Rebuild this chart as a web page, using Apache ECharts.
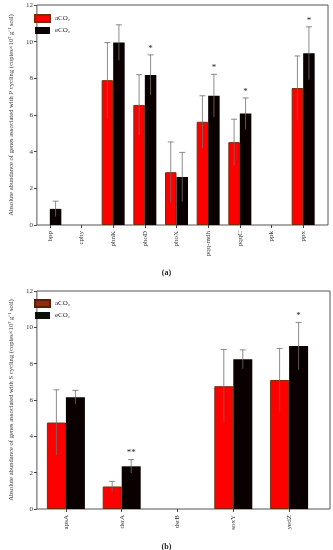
<!DOCTYPE html>
<html><head><meta charset="utf-8">
<script src="https://cdn.jsdelivr.net/npm/echarts@6/dist/echarts.min.js"></script>
<style>html,body{margin:0;padding:0;background:#fff}#c{width:333px;height:550px}</style>
</head><body><div id="c"></div>
<script>
// ---- Data (a): P cycling ----
var catsA = ['bpp','cphy','phnK','phoD','phoX','pqq-mdh','pqqC','ppk','ppx'];
var aCO2_A = [0, 0, 7.90, 6.55, 2.88, 5.63, 4.52, 0, 7.47];
var aErr_A = [0, 0, 2.05, 1.65, 1.65, 1.42, 1.25, 0, 1.75];
var eCO2_A = [0.88, 0, 9.95, 8.18, 2.62, 7.05, 6.08, 0, 9.37];
var eErr_A = [0.42, 0, 0.97, 1.10, 1.34, 1.17, 0.85, 0, 1.44];
var sigA   = ['', '', '', '*', '', '*', '*', '', '*'];
// ---- Data (b): S cycling ----
var catsB = ['apsA','dsrA','dsrB','soxY','yedZ'];
var aCO2_B = [4.76, 1.24, 0, 6.76, 7.10];
var aErr_B = [1.80, 0.28, 0, 2.02, 1.74];
var eCO2_B = [6.15, 2.35, 0, 8.24, 8.97];
var eErr_B = [0.38, 0.37, 0, 0.52, 1.30];
var sigB   = ['', '**', '', '', '*'];
var yTicks = [0, 2, 4, 6, 8, 10, 12];

var FONT = 'Liberation Serif';
var chart = echarts.init(document.getElementById('c'));

function barData(arr) { return arr.map(function (v) { return v === 0 ? '-' : v; }); }
function errData(mean, err) {
  var d = [];
  for (var i = 0; i < mean.length; i++) if (err[i] > 0) d.push([i, mean[i], err[i]]);
  return d;
}
function errRender(offset, sig) {
  return function (params, api) {
    var i = api.value(0), m = api.value(1), e = api.value(2);
    var top = api.coord([i, m + e]);
    var bot = api.coord([i, m - e]);
    var cx = top[0] + offset;
    var st = {stroke: '#6e6e6e', lineWidth: 0.8};
    var ch = [
      {type: 'line', shape: {x1: cx, y1: bot[1], x2: cx, y2: top[1]}, style: st},
      {type: 'line', shape: {x1: cx - 3, y1: top[1], x2: cx + 3, y2: top[1]}, style: st}
    ];
    if (sig && sig[i]) {
      ch.push({type: 'text', x: cx, y: top[1] - 2,
        style: {text: sig[i], fill: '#222', font: '9px "Liberation Serif"', align: 'center', verticalAlign: 'bottom'}});
    }
    return {type: 'group', children: ch};
  };
}

function frameY(gi, name) {
  return {
    type: 'value', gridIndex: gi, min: 0, max: 12, interval: 2,
    axisLine: {show: false},
    axisTick: {show: true, inside: false, length: 3, lineStyle: {color: '#444'}},
    axisLabel: {fontSize: 7, fontFamily: FONT, color: '#333', margin: 4},
    splitLine: {show: false},
    name: name, nameLocation: 'middle', nameGap: 16, nameRotate: 90,
    nameTextStyle: {fontSize: 6.6, fontFamily: FONT, color: '#333'}
  };
}
function hiddenY(gi) {
  return {type: 'value', gridIndex: gi, min: 0, max: 12, interval: 2, show: false};
}
function frameX(gi) {
  return {type: 'category', gridIndex: gi, data: [''], show: false};
}
function dataX(gi, cats) {
  return {
    type: 'category', gridIndex: gi, data: cats,
    axisLine: {show: false},
    axisTick: {show: true, alignWithLabel: true, length: 3, lineStyle: {color: '#444'}},
    axisLabel: {rotate: 90, fontSize: 7, fontFamily: FONT, color: '#333', margin: 6, interval: 0}
  };
}

var legendText = {fontSize: 7, fontFamily: FONT, color: '#222'};

chart.setOption({
  animation: false,
  backgroundColor: '#fff',
  title: [
    {text: '(a)', left: 'center', top: 264, textStyle: {fontSize: 8, fontWeight: 'bold', fontFamily: FONT, color: '#222'}},
    {text: '(b)', left: 'center', top: 538, textStyle: {fontSize: 8, fontWeight: 'bold', fontFamily: FONT, color: '#222'}}
  ],
  legend: [
    {orient: 'vertical', left: 29, top: 9, itemWidth: 15, itemHeight: 7, itemGap: 4, icon: 'rect',
      textStyle: legendText, data: ['aCO₂', 'eCO₂']},
    {orient: 'vertical', left: 29, top: 294, itemWidth: 15, itemHeight: 7, itemGap: 4, icon: 'rect',
      textStyle: legendText,
      data: [{name: 'aCO₂ ', itemStyle: {color: '#8e2e0e', borderColor: '#5a1d05'}},
             {name: 'eCO₂ ', itemStyle: {color: '#061006'}}]}
  ],
  grid: [
    {left: 27, top: 5, width: 301, height: 220, show: true, borderColor: '#555', borderWidth: 1},
    {left: 34, right: 14, top: 5, height: 220},
    {left: 26, top: 291, width: 304, height: 218, show: true, borderColor: '#555', borderWidth: 1},
    {left: 38, right: 16, top: 291, height: 218}
  ],
  xAxis: [frameX(0), dataX(1, catsA), frameX(2), dataX(3, catsB)],
  yAxis: [
    frameY(0, 'Absolute abundance of genes associated with P cycling (copies×10⁷ g⁻¹ soil)'),
    hiddenY(1),
    frameY(2, 'Absolute abundance of genes associated with S cycling (copies×10⁷ g⁻¹ soil)'),
    hiddenY(3)
  ],
  series: [
    {name: 'aCO₂', type: 'bar', xAxisIndex: 1, yAxisIndex: 1, data: barData(aCO2_A), barWidth: 11.5, barGap: '0%',
      itemStyle: {color: '#ff0000', borderColor: '#7a2c0a', borderWidth: 1}},
    {name: 'eCO₂', type: 'bar', xAxisIndex: 1, yAxisIndex: 1, data: barData(eCO2_A), barWidth: 11.5, barGap: '0%',
      itemStyle: {color: '#0a0000', borderColor: '#0a0000', borderWidth: 0}},
    {type: 'custom', xAxisIndex: 1, yAxisIndex: 1, renderItem: errRender(-5.75, null), data: errData(aCO2_A, aErr_A), z: 5},
    {type: 'custom', xAxisIndex: 1, yAxisIndex: 1, renderItem: errRender(5.75, sigA), data: errData(eCO2_A, eErr_A), z: 5},

    {name: 'aCO₂ ', type: 'bar', xAxisIndex: 3, yAxisIndex: 3, data: barData(aCO2_B), barWidth: 19, barGap: '0%',
      itemStyle: {color: '#ff0000', borderColor: '#7a2c0a', borderWidth: 1}},
    {name: 'eCO₂ ', type: 'bar', xAxisIndex: 3, yAxisIndex: 3, data: barData(eCO2_B), barWidth: 19, barGap: '0%',
      itemStyle: {color: '#0a0000', borderWidth: 0}},
    {type: 'custom', xAxisIndex: 3, yAxisIndex: 3, renderItem: errRender(-9.5, null), data: errData(aCO2_B, aErr_B), z: 5},
    {type: 'custom', xAxisIndex: 3, yAxisIndex: 3, renderItem: errRender(9.5, sigB), data: errData(eCO2_B, eErr_B), z: 5}
  ]
});
</script></body></html>
